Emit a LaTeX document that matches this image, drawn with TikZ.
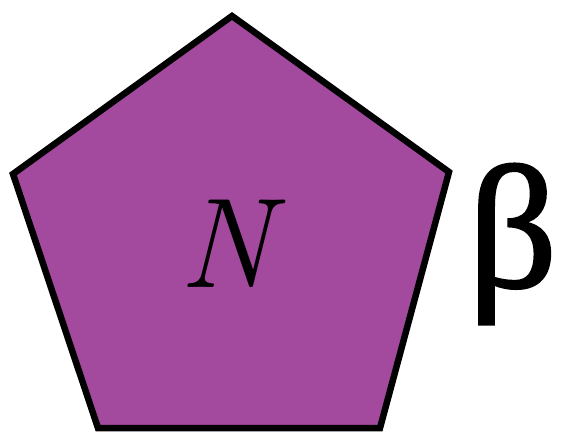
\documentclass[tikz,border=0pt]{standalone}
\usepackage{fontspec}
\newfontfamily\timesfont[FakeBold=1.5]{Liberation Serif}
\begin{document}
\begin{tikzpicture}[x=1pt,y=-1pt,
  pent/.style={draw=black,line width=6.5pt,fill=pentfill,line join=miter},
  lbl/.style={inner sep=0pt,anchor=base}]
\definecolor{pentfill}{HTML}{A34A9F}
\useasboundingbox (0,0) rectangle (561,433);
\coordinate (t) at (232,16);
\coordinate (r) at (449,172);
\coordinate (br) at (380,428);
\coordinate (bl) at (98,428);
\coordinate (l) at (13,174);
\draw[pent] (t) -- (r) -- (br) -- (bl) -- (l) -- cycle;
\node[lbl] (n) at (226,287) {\fontsize{128}{128}\selectfont\itshape N};
\node[lbl,anchor=base west] (b) at (468,287) {\fontsize{175}{175}\selectfont\timesfont β};
\end{tikzpicture}
\end{document}
